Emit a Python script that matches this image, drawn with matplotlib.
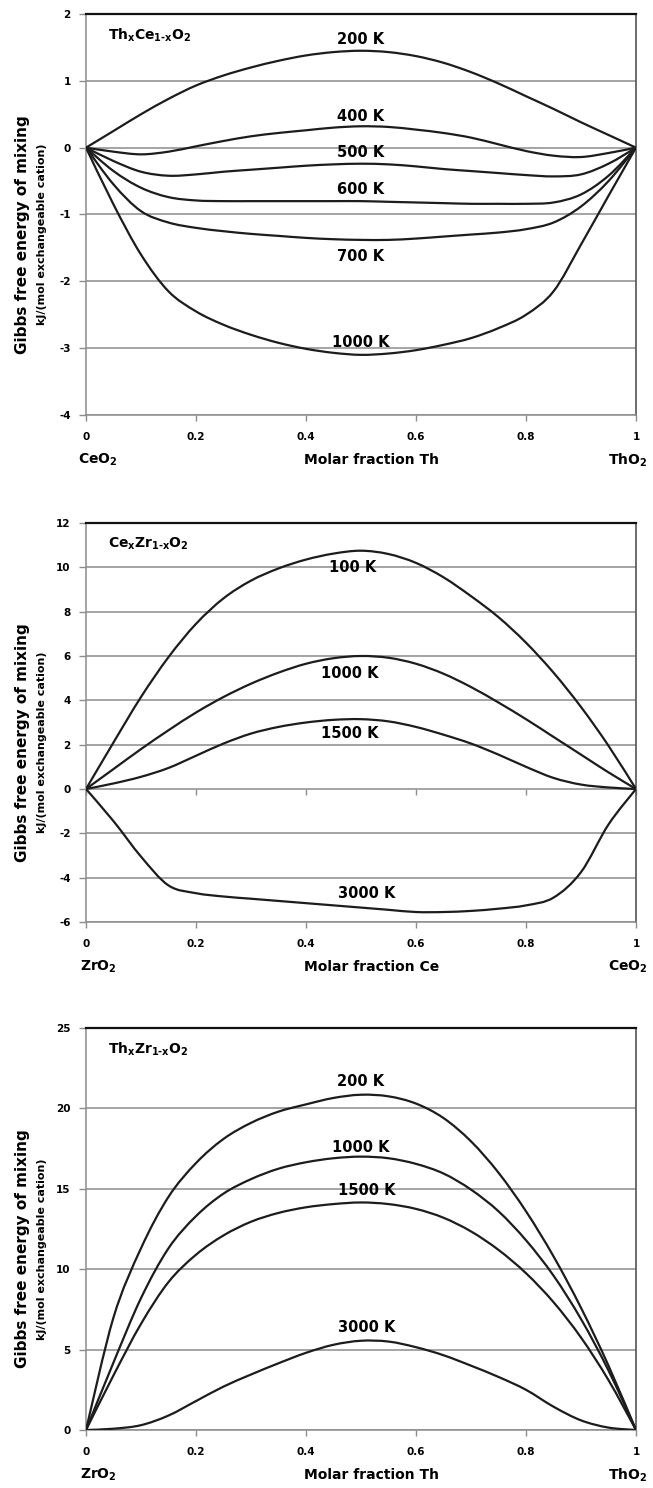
import matplotlib
matplotlib.use("Agg")
import matplotlib.pyplot as plt
from matplotlib.path import Path
from matplotlib.patches import PathPatch
import numpy as np

plt.rcParams['font.family'] = ['DejaVu Sans']
plt.rcParams['font.weight'] = 'bold'
plt.rcParams['mathtext.fontset'] = 'custom'
plt.rcParams['mathtext.rm'] = 'DejaVu Sans:bold'
plt.rcParams['mathtext.it'] = 'DejaVu Sans:bold'
plt.rcParams['mathtext.bf'] = 'DejaVu Sans:bold'

# Molar fraction grid shared by all curves
x_frac = [0.0, 0.05, 0.1, 0.15, 0.2, 0.25, 0.3, 0.35, 0.4, 0.45, 0.5,
          0.55, 0.6, 0.65, 0.7, 0.75, 0.8, 0.85, 0.9, 0.95, 1.0]

# --- Th(x)Ce(1-x)O2 ---
thce_200 = [0, 0.25, 0.5, 0.73, 0.93, 1.08, 1.2, 1.3, 1.38, 1.43, 1.45,
            1.43, 1.37, 1.27, 1.13, 0.96, 0.77, 0.58, 0.38, 0.19, 0]
thce_400 = [0, -0.06, -0.1, -0.06, 0.02, 0.1, 0.17, 0.22, 0.26, 0.3, 0.32,
            0.31, 0.27, 0.22, 0.15, 0.05, -0.05, -0.12, -0.14, -0.08, 0]
thce_500 = [0, -0.2, -0.36, -0.42, -0.4, -0.36, -0.33, -0.3, -0.27, -0.25, -0.24,
            -0.25, -0.28, -0.32, -0.35, -0.38, -0.41, -0.43, -0.4, -0.24, 0]
thce_600 = [0, -0.35, -0.6, -0.74, -0.79, -0.8, -0.8, -0.8, -0.8, -0.8, -0.8,
            -0.81, -0.82, -0.83, -0.84, -0.84, -0.84, -0.82, -0.7, -0.42, 0]
thce_700 = [0, -0.55, -0.95, -1.12, -1.2, -1.25, -1.29, -1.32, -1.35, -1.37, -1.38,
            -1.38, -1.36, -1.33, -1.3, -1.27, -1.22, -1.12, -0.88, -0.5, 0]
thce_1000 = [0, -0.85, -1.6, -2.15, -2.45, -2.65, -2.8, -2.92, -3.01, -3.07, -3.1,
             -3.08, -3.03, -2.95, -2.85, -2.7, -2.5, -2.15, -1.45, -0.72, 0]
thce_temps = ["200 K", "400 K", "500 K", "600 K", "700 K", "1000 K"]
thce_label_pos = [(0.5, 1.62), (0.5, 0.47), (0.5, -0.07), (0.5, -0.62),
                  (0.5, -1.63), (0.5, -2.91)]

# --- Ce(x)Zr(1-x)O2 ---
cezr_100 = [0, 2.1, 4.15, 5.95, 7.45, 8.6, 9.4, 9.95, 10.35, 10.62, 10.75,
            10.6, 10.2, 9.55, 8.7, 7.75, 6.6, 5.25, 3.7, 1.95, 0]
cezr_1000 = [0, 0.9, 1.8, 2.65, 3.45, 4.15, 4.75, 5.25, 5.65, 5.9, 6.0,
             5.92, 5.65, 5.2, 4.6, 3.9, 3.15, 2.35, 1.55, 0.75, 0]
cezr_1500 = [0, 0.25, 0.55, 0.95, 1.5, 2.05, 2.5, 2.8, 3.0, 3.12, 3.15,
             3.05, 2.8, 2.45, 2.05, 1.55, 1.0, 0.5, 0.2, 0.07, 0]
cezr_3000 = [0, -1.45, -3.05, -4.35, -4.7, -4.85, -4.95, -5.05, -5.15, -5.25, -5.35,
             -5.45, -5.55, -5.55, -5.5, -5.4, -5.25, -4.9, -3.75, -1.6, 0]
cezr_temps = ["100 K", "1000 K", "1500 K", "3000 K"]
cezr_label_pos = [(0.485, 10.0), (0.48, 5.23), (0.48, 2.5), (0.51, -4.72)]

# --- Th(x)Zr(1-x)O2 ---
thzr_200 = [0, 7.0, 11.3, 14.5, 16.6, 18.1, 19.1, 19.8, 20.25, 20.65, 20.85,
            20.75, 20.3, 19.4, 17.95, 16.0, 13.6, 10.8, 7.6, 4.0, 0]
thzr_1000 = [0, 4.2, 8.2, 11.3, 13.3, 14.7, 15.6, 16.25, 16.65, 16.9, 17.0,
             16.9, 16.55, 15.95, 14.95, 13.6, 11.8, 9.6, 6.9, 3.7, 0]
thzr_1500 = [0, 3.4, 6.6, 9.2, 10.9, 12.1, 12.95, 13.5, 13.85, 14.05, 14.15,
             14.05, 13.75, 13.2, 12.35, 11.2, 9.75, 7.95, 5.75, 3.1, 0]
thzr_3000 = [0, 0.08, 0.3, 0.9, 1.8, 2.7, 3.45, 4.15, 4.8, 5.3, 5.55,
             5.5, 5.15, 4.65, 4.0, 3.3, 2.5, 1.45, 0.6, 0.15, 0]
thzr_temps = ["200 K", "1000 K", "1500 K", "3000 K"]
thzr_label_pos = [(0.5, 21.7), (0.5, 17.55), (0.51, 14.87), (0.51, 6.38)]

x_ticks = [0, 0.2, 0.4, 0.6, 0.8, 1]
x_tick_labels = ["0", "0.2", "0.4", "0.6", "0.8", "1"]

W, H = 653, 1488
fig = plt.figure(figsize=(W / 100, H / 100), dpi=100)

GRID = "#8c8c8c"
LINE = "#1c1c1c"


def px_rect(left, top, right, bottom):
    return [left / W, 1 - bottom / H, (right - left) / W, (bottom - top) / H]


def smooth_path(xs, ys):
    """Smoothed polyline through the data points (cubic Bezier segments,
    Catmull-Rom tangents), in the style of a spreadsheet 'smoothed line'."""
    p = np.column_stack([xs, ys]).astype(float)
    n = len(p)
    verts = [p[0]]
    codes = [Path.MOVETO]
    for i in range(n - 1):
        p0 = p[i - 1] if i > 0 else p[i]
        p1 = p[i]
        p2 = p[i + 1]
        p3 = p[i + 2] if i + 2 < n else p[i + 1]
        c1 = p1 + (p2 - p0) / 6.0
        c2 = p2 - (p3 - p1) / 6.0
        verts += [c1, c2, p2]
        codes += [Path.CURVE4] * 3
    return Path(verts, codes)


def panel(rect_px, curves, temps, label_pos, ylim, ystep, formula, end_left,
          end_right, xlabel, zero_axis=False):
    ax = fig.add_axes(px_rect(*rect_px))
    yt = np.arange(ylim[0], ylim[1] + ystep / 2, ystep)
    for v in yt:
        ax.axhline(v, color=GRID, lw=1.1, zorder=1)
    for ys in curves:
        ax.add_patch(PathPatch(smooth_path(x_frac, ys), facecolor='none',
                               edgecolor=LINE, lw=1.6, zorder=3,
                               joinstyle='round', capstyle='round'))
    for t, (lx, ly) in zip(temps, label_pos):
        ax.text(lx, ly, t, ha='center', va='center', fontsize=10.5,
                fontweight='bold', zorder=4)
    ax.set_xlim(0, 1)
    ax.set_ylim(*ylim)
    ax.set_yticks(yt)
    ax.set_yticklabels([f"{int(v)}" for v in yt])
    ax.set_xticks(x_ticks)
    ax.set_xticklabels(x_tick_labels)
    ax.tick_params(axis='y', length=5, width=1, color=GRID, pad=6,
                   labelsize=7.5)
    ax.tick_params(axis='x', length=4, width=1, color=GRID, pad=8,
                   labelsize=7.5)
    for s in ('left', 'bottom'):
        ax.spines[s].set_color(GRID)
        ax.spines[s].set_linewidth(1.1)
    ax.spines['top'].set_color('#111111')
    ax.spines['top'].set_linewidth(1.6)
    ax.spines['right'].set_color('#555555')
    ax.spines['right'].set_linewidth(1.2)
    if zero_axis:
        loc = (0 - ylim[0]) / (ylim[1] - ylim[0])
        sec = ax.secondary_xaxis(loc)
        sec.set_xticks(x_ticks)
        sec.set_xticklabels([])
        sec.tick_params(axis='x', length=4, width=1, color=GRID)
        sec.spines['bottom'].set_visible(False)
    ax.text(0.04, 0.947, formula, transform=ax.transAxes, ha='left',
            va='center', fontsize=10, fontweight='bold')

    left, top, right, bottom = rect_px
    ycen = (top + bottom) / 2 + 20
    fig.text(23 / W, 1 - ycen / H, "Gibbs free energy of mixing",
             rotation=90, ha='center', va='center', fontsize=11,
             fontweight='bold')
    fig.text(42 / W, 1 - ycen / H, "kJ/(mol exchangeable cation)",
             rotation=90, ha='center', va='center', fontsize=8,
             fontweight='bold')
    ylab = bottom + 45
    fig.text(98 / W, 1 - ylab / H, end_left, ha='center', va='center',
             fontsize=10, fontweight='bold')
    fig.text(628 / W, 1 - ylab / H, end_right, ha='center', va='center',
             fontsize=10, fontweight='bold')
    fig.text(372 / W, 1 - ylab / H, xlabel, ha='center', va='center',
             fontsize=10, fontweight='bold')
    return ax


panel((86, 14, 636, 415),
      [thce_200, thce_400, thce_500, thce_600, thce_700, thce_1000],
      thce_temps, thce_label_pos, (-4, 2), 1,
      "Th$_\\mathrm{x}$Ce$_\\mathrm{1\u2010x}$O$_\\mathrm{2}$",
      r"CeO$_\mathrm{2}$", r"ThO$_\mathrm{2}$", "Molar fraction Th")

panel((86, 523, 636, 922),
      [cezr_100, cezr_1000, cezr_1500, cezr_3000],
      cezr_temps, cezr_label_pos, (-6, 12), 2,
      "Ce$_\\mathrm{x}$Zr$_\\mathrm{1\u2010x}$O$_\\mathrm{2}$",
      r"ZrO$_\mathrm{2}$", r"CeO$_\mathrm{2}$", "Molar fraction Ce",
      zero_axis=True)

panel((86, 1028, 636, 1430),
      [thzr_200, thzr_1000, thzr_1500, thzr_3000],
      thzr_temps, thzr_label_pos, (0, 25), 5,
      "Th$_\\mathrm{x}$Zr$_\\mathrm{1\u2010x}$O$_\\mathrm{2}$",
      r"ZrO$_\mathrm{2}$", r"ThO$_\mathrm{2}$", "Molar fraction Th")

fig.savefig("out.png", dpi=100)
